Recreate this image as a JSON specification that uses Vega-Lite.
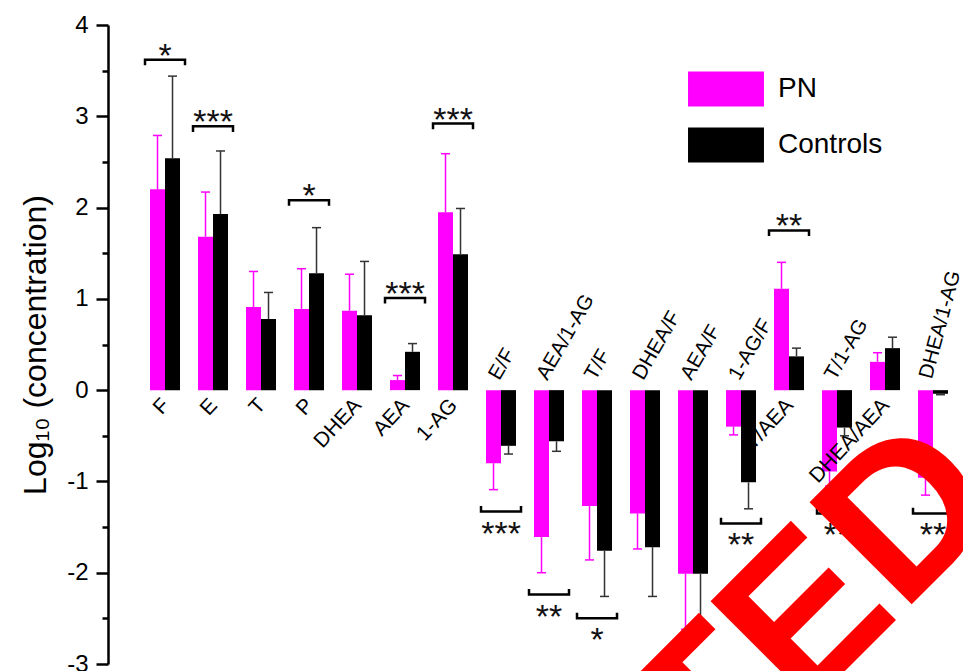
{
  "$schema": "https://vega.github.io/schema/vega-lite/v6.json",
  "width": 855,
  "height": 639,
  "autosize": {"type": "none"},
  "padding": {"left": 108, "top": 25, "right": 0, "bottom": 7},
  "background": "white",
  "config": {"view": {"stroke": null}, "font": "Liberation Sans"},
  "datasets": {
    "bars": [
      {"cat": "F", "group": "PN", "mean": 2.20, "err": 2.79},
      {"cat": "F", "group": "Controls", "mean": 2.54, "err": 3.44},
      {"cat": "E", "group": "PN", "mean": 1.68, "err": 2.17},
      {"cat": "E", "group": "Controls", "mean": 1.93, "err": 2.62},
      {"cat": "T", "group": "PN", "mean": 0.91, "err": 1.30},
      {"cat": "T", "group": "Controls", "mean": 0.78, "err": 1.07},
      {"cat": "P", "group": "PN", "mean": 0.89, "err": 1.33},
      {"cat": "P", "group": "Controls", "mean": 1.28, "err": 1.78},
      {"cat": "DHEA", "group": "PN", "mean": 0.87, "err": 1.27},
      {"cat": "DHEA", "group": "Controls", "mean": 0.82, "err": 1.41},
      {"cat": "AEA", "group": "PN", "mean": 0.11, "err": 0.16},
      {"cat": "AEA", "group": "Controls", "mean": 0.42, "err": 0.51},
      {"cat": "1-AG", "group": "PN", "mean": 1.95, "err": 2.59},
      {"cat": "1-AG", "group": "Controls", "mean": 1.49, "err": 1.99},
      {"cat": "E/F", "group": "PN", "mean": -0.80, "err": -1.09},
      {"cat": "E/F", "group": "Controls", "mean": -0.61, "err": -0.70},
      {"cat": "AEA/1-AG", "group": "PN", "mean": -1.61, "err": -2.00},
      {"cat": "AEA/1-AG", "group": "Controls", "mean": -0.56, "err": -0.67},
      {"cat": "T/F", "group": "PN", "mean": -1.27, "err": -1.86},
      {"cat": "T/F", "group": "Controls", "mean": -1.76, "err": -2.26},
      {"cat": "DHEA/F", "group": "PN", "mean": -1.35, "err": -1.74},
      {"cat": "DHEA/F", "group": "Controls", "mean": -1.72, "err": -2.26},
      {"cat": "AEA/F", "group": "PN", "mean": -2.01, "err": -2.62},
      {"cat": "AEA/F", "group": "Controls", "mean": -2.01, "err": -2.69},
      {"cat": "1-AG/F", "group": "PN", "mean": -0.40, "err": -0.49},
      {"cat": "1-AG/F", "group": "Controls", "mean": -1.01, "err": -1.30},
      {"cat": "T/AEA", "group": "PN", "mean": 1.11, "err": 1.40},
      {"cat": "T/AEA", "group": "Controls", "mean": 0.37, "err": 0.46},
      {"cat": "T/1-AG", "group": "PN", "mean": -0.89, "err": -1.05},
      {"cat": "T/1-AG", "group": "Controls", "mean": -0.41, "err": -0.50},
      {"cat": "DHEA/AEA", "group": "PN", "mean": 0.31, "err": 0.41},
      {"cat": "DHEA/AEA", "group": "Controls", "mean": 0.46, "err": 0.58},
      {"cat": "DHEA/1-AG", "group": "PN", "mean": -0.96, "err": -1.15},
      {"cat": "DHEA/1-AG", "group": "Controls", "mean": -0.04, "err": -0.05}
    ],
    "brackets": [
      {"cat": "F", "level": 3.62, "stars": "*"},
      {"cat": "E", "level": 2.89, "stars": "***"},
      {"cat": "P", "level": 2.08, "stars": "*"},
      {"cat": "AEA", "level": 1.01, "stars": "***"},
      {"cat": "1-AG", "level": 2.92, "stars": "***"},
      {"cat": "T/AEA", "level": 1.75, "stars": "**"},
      {"cat": "E/F", "level": -1.33, "stars": "***"},
      {"cat": "AEA/1-AG", "level": -2.24, "stars": "**"},
      {"cat": "T/F", "level": -2.50, "stars": "*"},
      {"cat": "1-AG/F", "level": -1.46, "stars": "**"},
      {"cat": "T/1-AG", "level": -1.35, "stars": "**"},
      {"cat": "DHEA/1-AG", "level": -1.35, "stars": "**"}
    ],
    "stamp": [
      {"text": "RETRACTED", "cat": "DHEA/1-AG", "v": -1.28}
    ]
  },
  "encoding": {
    "x": {
      "field": "cat",
      "type": "nominal",
      "axis": null,
      "scale": {
        "domain": ["F", "E", "T", "P", "DHEA", "AEA", "1-AG", "E/F", "AEA/1-AG", "T/F", "DHEA/F", "AEA/F", "1-AG/F", "T/AEA", "T/1-AG", "DHEA/AEA", "DHEA/1-AG"],
        "paddingInner": 0.375,
        "paddingOuter": 0.59375,
        "align": 0.737
      }
    }
  },
  "layer": [
    {
      "data": {"name": "bars"},
      "mark": {"type": "bar"},
      "encoding": {
        "xOffset": {"field": "group", "type": "nominal", "scale": {"domain": ["PN", "Controls"], "paddingInner": 0, "paddingOuter": 0}},
        "y": {
          "field": "mean",
          "type": "quantitative",
          "title": "Log₁₀ (concentration)",
          "scale": {"domain": [-3, 4], "nice": false, "zero": false},
          "axis": {
            "values": [-3, -2.5, -2, -1.5, -1, -0.5, 0, 0.5, 1, 1.5, 2, 2.5, 3, 3.5, 4],
            "labelExpr": "datum.value % 1 === 0 ? '' + datum.value : ''",
            "tickSize": {"condition": {"test": "datum.value % 1 !== 0", "value": 6}, "value": 12},
            "grid": false,
            "domainColor": "black",
            "domainWidth": 2.5,
            "tickColor": "black",
            "tickWidth": 2.5,
            "labelFontSize": 24,
            "labelColor": "black",
            "labelFont": "Liberation Sans",
            "labelPadding": 8,
            "titleFontSize": 32,
            "titleFontWeight": "normal",
            "titleColor": "black",
            "titleFont": "Liberation Sans",
            "titlePadding": 14
          }
        },
        "color": {
          "field": "group",
          "type": "nominal",
          "scale": {"domain": ["PN", "Controls"], "range": ["#ff00ff", "#000000"]},
          "legend": {
            "orient": "none",
            "legendX": 600.5,
            "legendY": 46.4,
            "title": null,
            "padding": 0,
            "symbolType": "M-2.17,-1H2.17V1H-2.17Z",
            "symbolSize": 1225,
            "symbolStrokeWidth": 0,
            "symbolOpacity": 1,
            "labelFontSize": 28,
            "labelFont": "Liberation Sans",
            "labelColor": "black",
            "labelOffset": 34.5,
            "rowPadding": 21
          }
        }
      }
    },
    {
      "data": {"name": "bars"},
      "mark": {"type": "rule", "strokeWidth": 1.5},
      "encoding": {
        "xOffset": {"field": "group", "type": "nominal"},
        "y": {"field": "mean", "type": "quantitative"},
        "y2": {"field": "err"},
        "stroke": {"field": "group", "type": "nominal", "scale": {"domain": ["PN", "Controls"], "range": ["#ff00ff", "#333333"]}, "legend": null}
      }
    },
    {
      "data": {"name": "bars"},
      "mark": {"type": "tick", "orient": "horizontal", "size": 9, "thickness": 1.5, "opacity": 1},
      "encoding": {
        "xOffset": {"field": "group", "type": "nominal"},
        "y": {"field": "err", "type": "quantitative"},
        "fill": {"field": "group", "type": "nominal", "scale": {"domain": ["PN", "Controls"], "range": ["#ff00ff", "#333333"]}, "legend": null}
      }
    },
    {
      "data": {"values": [{}]},
      "mark": {"type": "rule", "strokeWidth": 2.5, "color": "black"},
      "encoding": {"y": {"datum": 0}}
    },
    {
      "data": {"name": "brackets"},
      "transform": [{"filter": "datum.level > 0"}],
      "mark": {"type": "point", "shape": "M-1,0.28L-1,0L1,0L1,0.28", "size": 1600, "filled": false, "stroke": "black", "strokeWidth": 2.5, "opacity": 1},
      "encoding": {"y": {"field": "level", "type": "quantitative"}}
    },
    {
      "data": {"name": "brackets"},
      "transform": [{"filter": "datum.level < 0"}],
      "mark": {"type": "point", "shape": "M-1,-0.28L-1,0L1,0L1,-0.28", "size": 1600, "filled": false, "stroke": "black", "strokeWidth": 2.5, "opacity": 1},
      "encoding": {"y": {"field": "level", "type": "quantitative"}}
    },
    {
      "data": {"name": "brackets"},
      "transform": [{"filter": "datum.level > 0"}],
      "mark": {"type": "text", "fontSize": 34, "baseline": "alphabetic", "align": "center", "yOffset": 7, "color": "#111111"},
      "encoding": {"y": {"field": "level", "type": "quantitative"}, "text": {"field": "stars"}}
    },
    {
      "data": {"name": "brackets"},
      "transform": [{"filter": "datum.level < 0"}],
      "mark": {"type": "text", "fontSize": 34, "baseline": "alphabetic", "align": "center", "yOffset": 33, "color": "#111111"},
      "encoding": {"y": {"field": "level", "type": "quantitative"}, "text": {"field": "stars"}}
    },
    {
      "data": {"name": "bars"},
      "transform": [{"filter": "datum.group === 'PN' && datum.mean > 0"}],
      "mark": {"type": "text", "fontSize": 21, "angle": 313, "align": "right", "baseline": "middle", "xOffset": 1, "yOffset": 12, "color": "black"},
      "encoding": {"y": {"datum": 0}, "text": {"field": "cat"}}
    },
    {
      "data": {"name": "bars"},
      "transform": [{"filter": "datum.group === 'PN' && datum.mean < 0 && datum.cat !== 'DHEA/1-AG'"}],
      "mark": {"type": "text", "fontSize": 20.5, "angle": 300, "align": "left", "baseline": "middle", "xOffset": -7, "yOffset": -12, "color": "black"},
      "encoding": {"y": {"datum": 0}, "text": {"field": "cat"}}
    },
    {
      "data": {"name": "bars"},
      "transform": [{"filter": "datum.group === 'PN' && datum.cat === 'DHEA/1-AG'"}],
      "mark": {"type": "text", "fontSize": 20.5, "angle": 285, "align": "left", "baseline": "middle", "xOffset": -7, "yOffset": -12, "color": "black"},
      "encoding": {"y": {"datum": 0}, "text": {"field": "cat"}}
    },
    {
      "data": {"name": "stamp"},
      "mark": {"type": "text", "fontSize": 210, "fontWeight": "bold", "font": "Liberation Sans", "angle": 315, "align": "right", "baseline": "alphabetic", "xOffset": 76, "color": "#ff0000"},
      "encoding": {"y": {"field": "v", "type": "quantitative"}, "text": {"field": "text"}}
    }
  ]
}
